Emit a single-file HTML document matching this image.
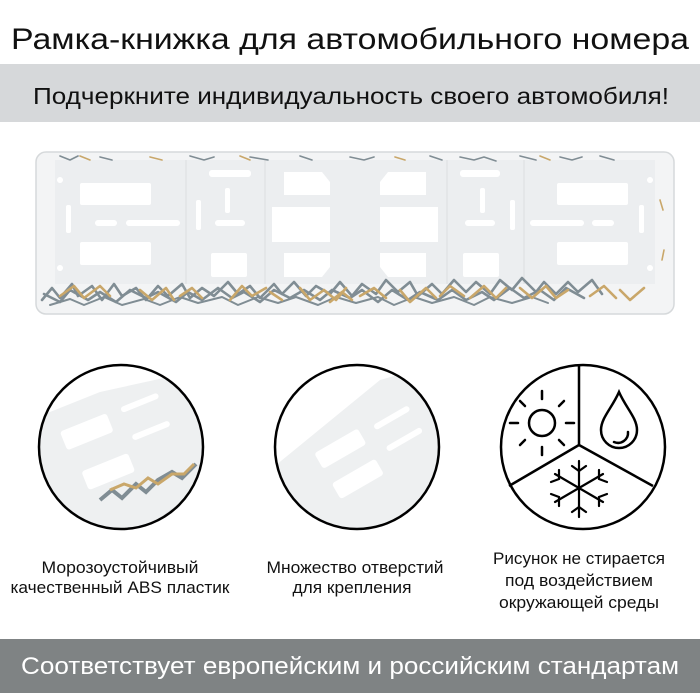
<!DOCTYPE html>
<html><head><meta charset="utf-8"><style>
html,body{margin:0;padding:0;background:#fff;}
body{width:700px;height:700px;overflow:hidden;}
svg{display:block}
</style></head><body>
<svg width="700" height="700" viewBox="0 0 700 700" xmlns="http://www.w3.org/2000/svg" font-family="Liberation Sans, DejaVu Sans, sans-serif">
<defs>
<clipPath id="c1"><circle cx="121" cy="447" r="82"/></clipPath>
<clipPath id="c2"><circle cx="357" cy="447" r="82"/></clipPath>
</defs>
<rect width="700" height="700" fill="#fff"/>
<text x="350" y="49" font-size="30" text-anchor="middle" textLength="678" lengthAdjust="spacingAndGlyphs" fill="#111">Рамка-книжка для автомобильного номера</text>
<rect x="0" y="64" width="700" height="58" fill="#d6d8da"/>
<text x="351" y="104" font-size="23" text-anchor="middle" textLength="636" lengthAdjust="spacingAndGlyphs" fill="#111">Подчеркните индивидуальность своего автомобиля!</text>

<!-- plate -->
<rect x="36" y="152" width="638" height="162" rx="10" fill="#f3f4f5" stroke="#d6d9db" stroke-width="1.5"/>
<rect x="55" y="160" width="600" height="124" fill="#eceef0"/>
<g fill="#fff">
<rect x="80" y="183" width="71" height="22" rx="2"/>
<rect x="80" y="242" width="71" height="23" rx="2"/>
<rect x="95" y="220" width="22" height="6" rx="3"/>
<rect x="126" y="220" width="54" height="6" rx="3"/>
<rect x="66" y="205" width="5" height="28" rx="2"/>
<rect x="209" y="170" width="42" height="7" rx="3"/>
<rect x="211" y="253" width="36" height="24" rx="2"/>
<rect x="196" y="200" width="5" height="30" rx="2"/>
<rect x="215" y="220" width="30" height="6" rx="3"/>
<rect x="225" y="188" width="5" height="25" rx="2"/>
<path d="M284 172h38l8 10v13h-46z"/>
<rect x="272" y="207" width="58" height="35"/>
<path d="M284 253h46v14l-8 10h-38z"/>
<path d="M388 172h38v23h-46v-13z"/>
<rect x="380" y="207" width="58" height="35"/>
<path d="M380 253h46v24h-38l-8-10z"/>
<rect x="460" y="170" width="40" height="7" rx="3"/>
<rect x="463" y="253" width="36" height="24" rx="2"/>
<rect x="465" y="220" width="30" height="6" rx="3"/>
<rect x="510" y="200" width="5" height="30" rx="2"/>
<rect x="480" y="188" width="5" height="25" rx="2"/>
<rect x="557" y="183" width="71" height="22" rx="2"/>
<rect x="557" y="242" width="71" height="23" rx="2"/>
<rect x="530" y="220" width="54" height="6" rx="3"/>
<rect x="592" y="220" width="22" height="6" rx="3"/>
<rect x="639" y="205" width="5" height="28" rx="2"/>
<circle cx="60" cy="180" r="3"/><circle cx="60" cy="268" r="3"/>
<circle cx="650" cy="180" r="3"/><circle cx="650" cy="268" r="3"/>
</g>
<g stroke="#e2e4e6" stroke-width="1.5">
<line x1="186" y1="160" x2="186" y2="284"/><line x1="265" y1="160" x2="265" y2="284"/>
<line x1="447" y1="160" x2="447" y2="284"/><line x1="524" y1="160" x2="524" y2="284"/>
</g>
<!-- pattern -->
<g fill="none" stroke-width="2.6" stroke-linecap="round" stroke-linejoin="round">
<path stroke="#808d94" d="M42 300l10-12 8 10 12-14 6 12 14-10 10 14 12-16 8 12 14-8 10 12 12-14 10 10 14-12 8 14 12-10 12 8 14-14 10 12 12-8 10 12 14-14 8 10 12-12 12 14 10-10 14 8 10-12 12 14 10-12 14 10 10-14 12 12 12-10 8 14 14-12 10 10 12-14 12 12 10-10 14 12 10-14 12 10 10-12 14 14 8-10 12 12 12-12 10 10 14-12 10 14"/>
<path stroke="#808d94" d="M44 294l16 8 10-12 18 10 12-8 16 10 14-12 16 8 12-6 18 10 12-10 14 8 16-12 14 10 12-6 16 10 14-12 16 8 14-8 16 10 12-10 18 8 12-8 16 12 14-12 16 10 12-8 18 8 14-10 14 10 16-8 12 8 16-12 14 10 16-8 14 10 12-12 18 10"/>
<path stroke="#808d94" stroke-width="2" d="M50 305l20-6 14 6 20-8 18 8 22-6 16 6 20-8 18 6 24-6 16 8 20-8 20 6 18-6 22 8 18-8 20 6 22-6 16 8 20-8 18 6 22-6 20 8 16-8 22 6 20-6 16 6"/>
<path stroke="#c9a76a" d="M60 296l14-10 10 12 16-12 10 10M140 290l12 10 14-12 8 12M230 300l12-14 10 10 14-8M300 288l10 12 14-10 12 10 10-12M360 296l14-8 12 10M400 290l10 12 16-14 10 10M470 298l14-12 12 12 10-10M520 288l12 10 14-12 10 12 12-8M590 296l14-10 12 12M620 290l10 10 14-12M180 296l12-8 10 10M330 302l12-10 10 8M440 296l10-10 14 10M270 292l12 8"/>
<path stroke="#808d94" stroke-width="1.6" d="M60 156l10 4 8-4M100 157l12 3M190 156l14 4 10-3M250 157l18 3M300 156l12 4M350 157l14 3 10-3M430 156l12 4M460 157l14 3 10-3 12 4M520 156l16 4M560 157l12 3 10-3M600 156l14 4"/>
<path stroke="#c9a76a" stroke-width="1.6" d="M80 156l10 4M150 157l12 3M240 156l10 4M395 157l10 3M540 156l10 4M660 200l3 10M664 250l-2 10"/>
</g>

<!-- left circle -->
<g clip-path="url(#c1)">
<rect x="30" y="360" width="190" height="180" fill="#fff"/>
<polygon points="30,420 100,392 200,370 220,380 220,470 170,510 130,540 30,540" fill="#eef0f1"/>
<g fill="#fff" transform="rotate(-22 121 447)">
<rect x="70" y="410" width="50" height="20" rx="3"/>
<rect x="75" y="455" width="50" height="20" rx="3"/>
<rect x="135" y="410" width="40" height="6" rx="3"/>
<rect x="135" y="440" width="40" height="6" rx="3"/>
</g>
<path d="M100 500l12-10 10 8 14-14 10 8 12-12 14-8 10 6 14-14" fill="none" stroke="#808d94" stroke-width="4"/>
<path d="M110 490l14-6 12 4 12-10 10 6 14-10 12 0 10-10" fill="none" stroke="#c9a76a" stroke-width="3"/>
<polygon points="30,540 130,540 210,480 220,480 220,500 150,540" fill="#dfe1e3"/>
</g>
<circle cx="121" cy="447" r="82" fill="none" stroke="#000" stroke-width="2.5"/>

<!-- middle circle -->
<g clip-path="url(#c2)">
<rect x="270" y="360" width="180" height="180" fill="#fff"/>
<polygon points="270,470 380,380 450,360 450,470 390,540 270,540" fill="#eef0f1"/>
<g fill="#fff" transform="rotate(-30 370 450)">
<rect x="320" y="425" width="50" height="18" rx="3"/>
<rect x="320" y="460" width="50" height="18" rx="3"/>
<rect x="385" y="430" width="40" height="6" rx="3"/>
<rect x="385" y="455" width="40" height="6" rx="3"/>
</g>
<polygon points="270,540 390,540 450,470 450,490 400,540" fill="#dcdee0"/>
</g>
<circle cx="357" cy="447" r="82" fill="none" stroke="#000" stroke-width="2.5"/>

<!-- right circle -->
<g fill="none" stroke="#000" stroke-width="2.5">
<circle cx="583" cy="447" r="82"/>
<path d="M579 365V445L509 486M579 445L653 486"/>
<circle cx="542" cy="423" r="13"/>
<g stroke-linecap="round">
<path d="M542 399v-8M542 447v8M518 423h-8M566 423h8M525 406l-5-5M559 406l5-5M525 440l-5 5M559 440l5 5"/>
</g>
<path d="M619 392C612 408 601 418 601 430a18 18 0 0 0 36 0C637 418 626 408 619 392Z"/>
<path d="M614 442a10 10 0 0 0 14-10" stroke-linecap="round"/>
<g stroke-linecap="round" stroke-width="2.2">
<path d="M579 461v56M555 474l48 28M555 502l48-28"/>
<path d="M572 466l7 5 7-5M572 512l7-5 7 5"/>
<path d="M559 470l0 9-8 3M599 470l0 9 8 3M559 506l0-9-8-3M599 506l0-9 8-3"/>
</g>
</g>

<g font-size="17" fill="#111" text-anchor="middle" lengthAdjust="spacingAndGlyphs">
<text x="120" y="573" textLength="157" lengthAdjust="spacingAndGlyphs">Морозоустойчивый</text>
<text x="120" y="593" textLength="219" lengthAdjust="spacingAndGlyphs">качественный ABS пластик</text>
<text x="355" y="573" textLength="177" lengthAdjust="spacingAndGlyphs">Множество отверстий</text>
<text x="352" y="593" textLength="119" lengthAdjust="spacingAndGlyphs">для крепления</text>
<text x="579" y="564" textLength="172" lengthAdjust="spacingAndGlyphs">Рисунок не стирается</text>
<text x="579" y="586" textLength="148" lengthAdjust="spacingAndGlyphs">под воздействием</text>
<text x="579" y="608" textLength="160" lengthAdjust="spacingAndGlyphs">окружающей среды</text>
</g>

<rect x="0" y="639" width="700" height="54" fill="#7f8384"/>
<text x="350" y="674" font-size="24" text-anchor="middle" textLength="658" lengthAdjust="spacingAndGlyphs" fill="#fff">Соответствует европейским и российским стандартам</text>
</svg>
</body></html>
